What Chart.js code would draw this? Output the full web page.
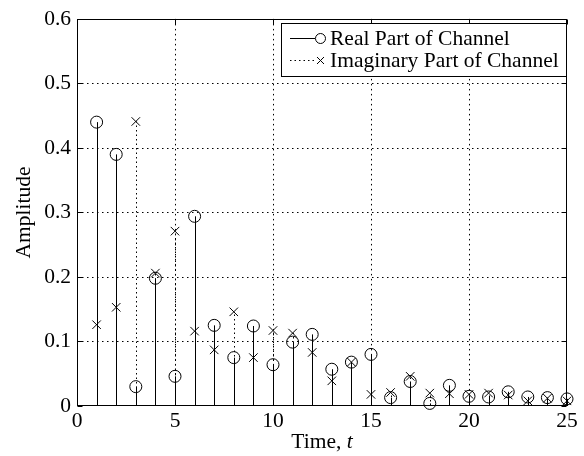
<!DOCTYPE html>
<html><head><meta charset="utf-8">
<script src="https://cdn.jsdelivr.net/npm/chart.js@4.4.0/dist/chart.umd.min.js"></script>
<style>html,body{margin:0;padding:0;background:#fff}#wrap{width:584px;height:456px}canvas{display:block}</style>
</head><body><div id="wrap"><canvas id="c" width="584" height="456"></canvas></div>
<script>
const times = [1,2,3,4,5,6,7,8,9,10,11,12,13,14,15,16,17,18,19,20,21,22,23,24,25];
const realPart = [0.44,0.39,0.03,0.198,0.046,0.294,0.125,0.075,0.124,0.064,0.099,0.111,0.057,0.068,0.080,0.013,0.038,0.004,0.032,0.015,0.014,0.022,0.014,0.013,0.011];
const imagPart = [0.126,0.153,0.441,0.206,0.271,0.116,0.087,0.146,0.075,0.117,0.113,0.083,0.039,0.068,0.018,0.021,0.046,0.020,0.019,0.018,0.020,0.017,0.008,0.012,0.008];
const xTickValues = [0,5,10,15,20,25];
const xTickLabels = ['0','5','10','15','20','25'];
const yTickValues = [0,0.1,0.2,0.3,0.4,0.5,0.6];
const yTickLabels = ['0','0.1','0.2','0.3','0.4','0.5','0.6'];
const seriesLabels = ['Real Part of Channel','Imaginary Part of Channel'];
const xTitleText = 'Time, ';
const xTitleVar = 't';
const yTitleText = 'Amplitude';

const FONT = '"Liberation Serif", "Times New Roman", serif';
const FS = 21.5;
const crisp = v => Math.round(v) + 0.5;

const stemPlugin = {
  id: 'stems',
  beforeDatasetsDraw(chart) {
    const {ctx, chartArea: a, scales: {x, y}} = chart;
    ctx.save();
    ctx.strokeStyle = '#000';
    ctx.lineWidth = 1;
    ctx.setLineDash([1.5, 3.5]);
    xTickValues.forEach(v => {
      if (v === x.min || v === x.max) return;
      const px = crisp(x.getPixelForValue(v));
      ctx.beginPath(); ctx.moveTo(px, a.top); ctx.lineTo(px, a.bottom); ctx.stroke();
    });
    yTickValues.forEach(v => {
      if (v === y.min || v === y.max) return;
      const py = crisp(y.getPixelForValue(v));
      ctx.beginPath(); ctx.moveTo(a.left, py); ctx.lineTo(a.right, py); ctx.stroke();
    });
    const y0 = y.getPixelForValue(0);
    chart.data.datasets.forEach((ds, di) => {
      const meta = chart.getDatasetMeta(di);
      ctx.setLineDash(ds.stemDash);
      meta.data.forEach(pt => {
        const px = crisp(pt.x);
        ctx.beginPath(); ctx.moveTo(px, y0); ctx.lineTo(px, pt.y); ctx.stroke();
      });
    });
    ctx.restore();
  },
  afterDatasetsDraw(chart) {
    const {ctx, chartArea: a, scales: {x, y}} = chart;
    ctx.save();
    ctx.strokeStyle = '#000';
    ctx.lineWidth = 1;
    ctx.setLineDash([]);
    const L = Math.round(a.left) + 0.5, R = Math.round(a.right) - 0.5;
    const T = Math.round(a.top) + 0.5, B = Math.round(a.bottom) - 0.5;
    ctx.strokeRect(L, T, R - L, B - T);
    const tl = 5;
    xTickValues.forEach(v => {
      const px = crisp(x.getPixelForValue(v));
      ctx.beginPath();
      ctx.moveTo(px, B); ctx.lineTo(px, B - tl);
      ctx.moveTo(px, T); ctx.lineTo(px, T + tl);
      ctx.stroke();
    });
    yTickValues.forEach(v => {
      const py = crisp(y.getPixelForValue(v));
      ctx.beginPath();
      ctx.moveTo(L, py); ctx.lineTo(L + tl, py);
      ctx.moveTo(R, py); ctx.lineTo(R - tl, py);
      ctx.stroke();
    });
    ctx.restore();
  },
  afterDraw(chart) {
    const {ctx, chartArea: a} = chart;
    ctx.save();
    ctx.fillStyle = '#000';
    ctx.font = FS + 'px ' + FONT;
    const w1 = ctx.measureText(xTitleText).width;
    ctx.font = 'italic ' + FS + 'px ' + FONT;
    const w2 = ctx.measureText(xTitleVar).width;
    const cx = (a.left + a.right) / 2;
    const sx = cx - (w1 + w2) / 2;
    ctx.textBaseline = 'middle';
    ctx.textAlign = 'left';
    ctx.font = FS + 'px ' + FONT;
    ctx.fillText(xTitleText, sx, 442);
    ctx.font = 'italic ' + FS + 'px ' + FONT;
    ctx.fillText(xTitleVar, sx + w1, 442);
    ctx.font = FS + 'px ' + FONT;
    ctx.translate(24, (a.top + a.bottom) / 2);
    ctx.rotate(-Math.PI / 2);
    ctx.textAlign = 'center';
    ctx.fillText(yTitleText, 0, 0);
    ctx.restore();

    // legend
    ctx.save();
    const bx = 281.5, by = 23.5, bw = 285, bh = 53;
    ctx.fillStyle = '#fff';
    ctx.fillRect(bx, by, bw, bh);
    ctx.strokeStyle = '#000';
    ctx.lineWidth = 1;
    ctx.strokeRect(bx, by, bw, bh);
    const rows = [38.5, 60.5];
    ctx.font = FS + 'px ' + FONT;
    ctx.fillStyle = '#000';
    ctx.textBaseline = 'middle';
    ctx.textAlign = 'left';
    chart.data.datasets.forEach((ds, i) => {
      const ry = rows[i];
      ctx.setLineDash(ds.stemDash);
      ctx.beginPath(); ctx.moveTo(290, ry); ctx.lineTo(i === 0 ? 315 : 317, ry); ctx.stroke();
      ctx.setLineDash([]);
      if (i === 0) {
        ctx.beginPath(); ctx.arc(320.5, ry, 5, 0, Math.PI * 2); ctx.stroke();
      } else {
        const d = 3.5;
        ctx.beginPath();
        ctx.moveTo(320.5 - d, ry - d); ctx.lineTo(320.5 + d, ry + d);
        ctx.moveTo(320.5 - d, ry + d); ctx.lineTo(320.5 + d, ry - d);
        ctx.stroke();
      }
      ctx.fillText(seriesLabels[i], 330, ry + 1);
    });
    ctx.restore();
  }
};

new Chart(document.getElementById('c'), {
  type: 'scatter',
  data: {
    datasets: [
      {
        label: seriesLabels[0],
        data: times.map((t, i) => ({x: t, y: realPart[i]})),
        pointStyle: 'circle', pointRadius: 6, pointBorderWidth: 1,
        borderColor: '#000', backgroundColor: 'rgba(0,0,0,0)',
        pointHoverRadius: 6, clip: false, stemDash: []
      },
      {
        label: seriesLabels[1],
        data: times.map((t, i) => ({x: t, y: imagPart[i]})),
        pointStyle: 'crossRot', pointRadius: 6, pointBorderWidth: 1,
        borderColor: '#000', backgroundColor: 'rgba(0,0,0,0)',
        pointHoverRadius: 6, clip: false, stemDash: [1.5, 3]
      }
    ]
  },
  options: {
    responsive: false,
    animation: false,
    devicePixelRatio: 1,
    layout: {padding: {left: 0, right: 17, top: 18, bottom: 0}},
    plugins: {legend: {display: false}, tooltip: {enabled: false}},
    scales: {
      x: {
        type: 'linear', min: 0, max: 25,
        afterBuildTicks: s => { s.ticks = xTickValues.map(v => ({value: v})); },
        afterFit: s => { s.height = 50; },
        grid: {display: false, drawTicks: false},
        border: {display: false},
        ticks: {
          callback: (v, i) => xTickLabels[i],
          color: '#000', padding: 2, maxRotation: 0,
          font: {family: FONT, size: FS}
        }
      },
      y: {
        type: 'linear', min: 0, max: 0.6,
        afterBuildTicks: s => { s.ticks = yTickValues.map(v => ({value: v})); },
        afterFit: s => { s.width = 77; },
        grid: {display: false, drawTicks: false},
        border: {display: false},
        ticks: {
          callback: (v, i) => yTickLabels[i],
          color: '#000', padding: 6,
          font: {family: FONT, size: FS}
        }
      }
    }
  },
  plugins: [stemPlugin]
});
</script>
</body></html>
